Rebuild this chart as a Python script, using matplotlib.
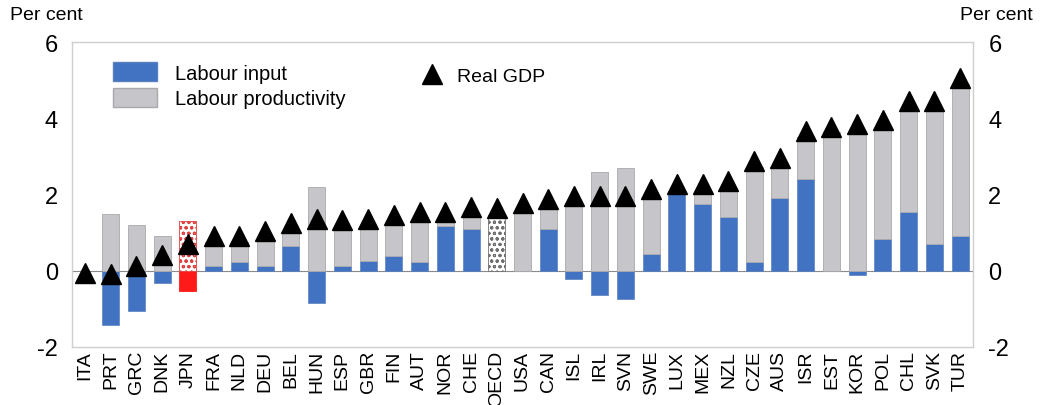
import matplotlib
matplotlib.use("Agg")
import matplotlib.pyplot as plt
from matplotlib.patches import Patch
from matplotlib.lines import Line2D
import numpy as np

plt.rcParams['font.family'] = ['Liberation Sans', 'DejaVu Sans']
plt.rcParams['hatch.linewidth'] = 0.8

countries = ["ITA", "PRT", "GRC", "DNK", "JPN", "FRA", "NLD", "DEU", "BEL", "HUN",
             "ESP", "GBR", "FIN", "AUT", "NOR", "CHE", "OECD", "USA", "CAN", "ISL",
             "IRL", "SVN", "SWE", "LUX", "MEX", "NZL", "CZE", "AUS", "ISR", "EST",
             "KOR", "POL", "CHL", "SVK", "TUR"]
labour_input = [0.0, -1.42, -1.05, -0.33, -0.54, 0.13, 0.22, 0.13, 0.66, -0.85,
                0.13, 0.26, 0.38, 0.24, 1.18, 1.09, 0.0, 0.0, 1.09, -0.22,
                -0.64, -0.74, 0.44, 2.06, 1.75, 1.40, 0.22, 1.92, 2.41, 0.0,
                -0.11, 0.83, 1.53, 0.70, 0.92]
labour_productivity = [0.0, 1.50, 1.20, 0.90, 1.31, 0.63, 0.54, 0.74, 0.39, 2.19,
                       0.96, 0.85, 0.87, 1.07, 0.13, 0.40, 1.46, 1.55, 0.57, 1.78,
                       2.60, 2.69, 1.51, 0.02, 0.35, 0.76, 2.49, 0.84, 1.09, 3.63,
                       3.67, 2.93, 2.71, 3.54, 3.98]
real_gdp = [-0.05, -0.09, 0.13, 0.41, 0.70, 0.92, 0.90, 1.03, 1.25, 1.36,
            1.33, 1.36, 1.46, 1.53, 1.53, 1.66, 1.64, 1.78, 1.88, 1.97,
            1.97, 1.97, 2.14, 2.27, 2.27, 2.36, 2.89, 2.97, 3.67, 3.78,
            3.85, 3.96, 4.44, 4.44, 5.06]
y_ticks = [-2, 0, 2, 4, 6]

BLUE = '#4173c2'
GRAY = '#c6c6ca'
GRAY_EDGE = '#a9a9ad'

fig = plt.figure(figsize=(10.4, 4.06), dpi=100)
ax = fig.add_axes([72/1040, (406-348)/406, 901/1040, 305/406])

x = np.arange(len(countries))
w = 0.66
li = np.array(labour_input)
lp = np.array(labour_productivity)
prod_bottom = np.where(li > 0, li, 0.0)

for i, c in enumerate(countries):
    if c == "JPN":
        ax.bar(x[i], li[i], w, color='#ff1a1a', edgecolor='#ff1a1a', lw=0.6, zorder=2)
        ax.bar(x[i], lp[i], w, bottom=prod_bottom[i], color='white', edgecolor='#e04040',
               hatch='ooo', lw=0.6, zorder=2)
    elif c == "OECD":
        ax.bar(x[i], lp[i], w, bottom=prod_bottom[i], color='white', edgecolor='#707070',
               hatch='ooo', lw=0.6, zorder=2)
    else:
        if li[i] != 0:
            ax.bar(x[i], li[i], w, color=BLUE, edgecolor='#5a80c0', lw=0.5, zorder=2)
        if lp[i] != 0:
            ax.bar(x[i], lp[i], w, bottom=prod_bottom[i], color=GRAY, edgecolor=GRAY_EDGE,
                   lw=0.6, zorder=2)

ax.plot(x, real_gdp, linestyle='none', marker='^', markersize=15, color='black', zorder=4)
ax.axhline(0, color='#8a8a8a', lw=0.8, zorder=1)

ax.set_xlim(-0.5, len(countries) - 0.5)
ax.set_ylim(-2, 6)
ax.set_yticks(y_ticks)
ax.set_yticklabels([str(t) for t in y_ticks], fontsize=17)
ax.set_xticks(x)
ax.set_xticklabels(countries, rotation=90, fontsize=14)
ax.tick_params(axis='x', length=0, pad=2)
ax.tick_params(axis='y', length=0, pad=10)
for s in ax.spines.values():
    s.set_color('#cfcfcf')
    s.set_linewidth(1.0)

ax2 = ax.twinx()
ax2.set_ylim(-2, 6)
ax2.set_yticks(y_ticks)
ax2.set_yticklabels([str(t) for t in y_ticks], fontsize=17)
ax2.tick_params(axis='y', length=0, pad=11)
for s in ax2.spines.values():
    s.set_visible(False)

fig.text(10/1040, 1 - 16/406, "Per cent", fontsize=14, ha='left', va='center')
fig.text(1033/1040, 1 - 16/406, "Per cent", fontsize=14, ha='right', va='center')

h1 = [Patch(facecolor=BLUE, edgecolor='#5a80c0'),
      Patch(facecolor=GRAY, edgecolor=GRAY_EDGE)]
leg1 = ax.legend(h1, ["Labour input", "Labour productivity"], loc='upper left',
                 bbox_to_anchor=(113/1040, 1 - 63/406), bbox_transform=fig.transFigure,
                 frameon=False, fontsize=14.5, handlelength=2.2, handleheight=1.1,
                 handletextpad=0.9, labelspacing=0.25, borderpad=0, borderaxespad=0)
ax.add_artist(leg1)
h2 = [Line2D([], [], linestyle='none', marker='^', markersize=14, color='black')]
ax.legend(h2, ["Real GDP"], loc='upper left',
          bbox_to_anchor=(416/1040, 1 - 68/406), bbox_transform=fig.transFigure,
          frameon=False, fontsize=14, handlelength=1.6, handletextpad=0.5,
          borderpad=0, borderaxespad=0)

fig.savefig("out.png", dpi=100)
